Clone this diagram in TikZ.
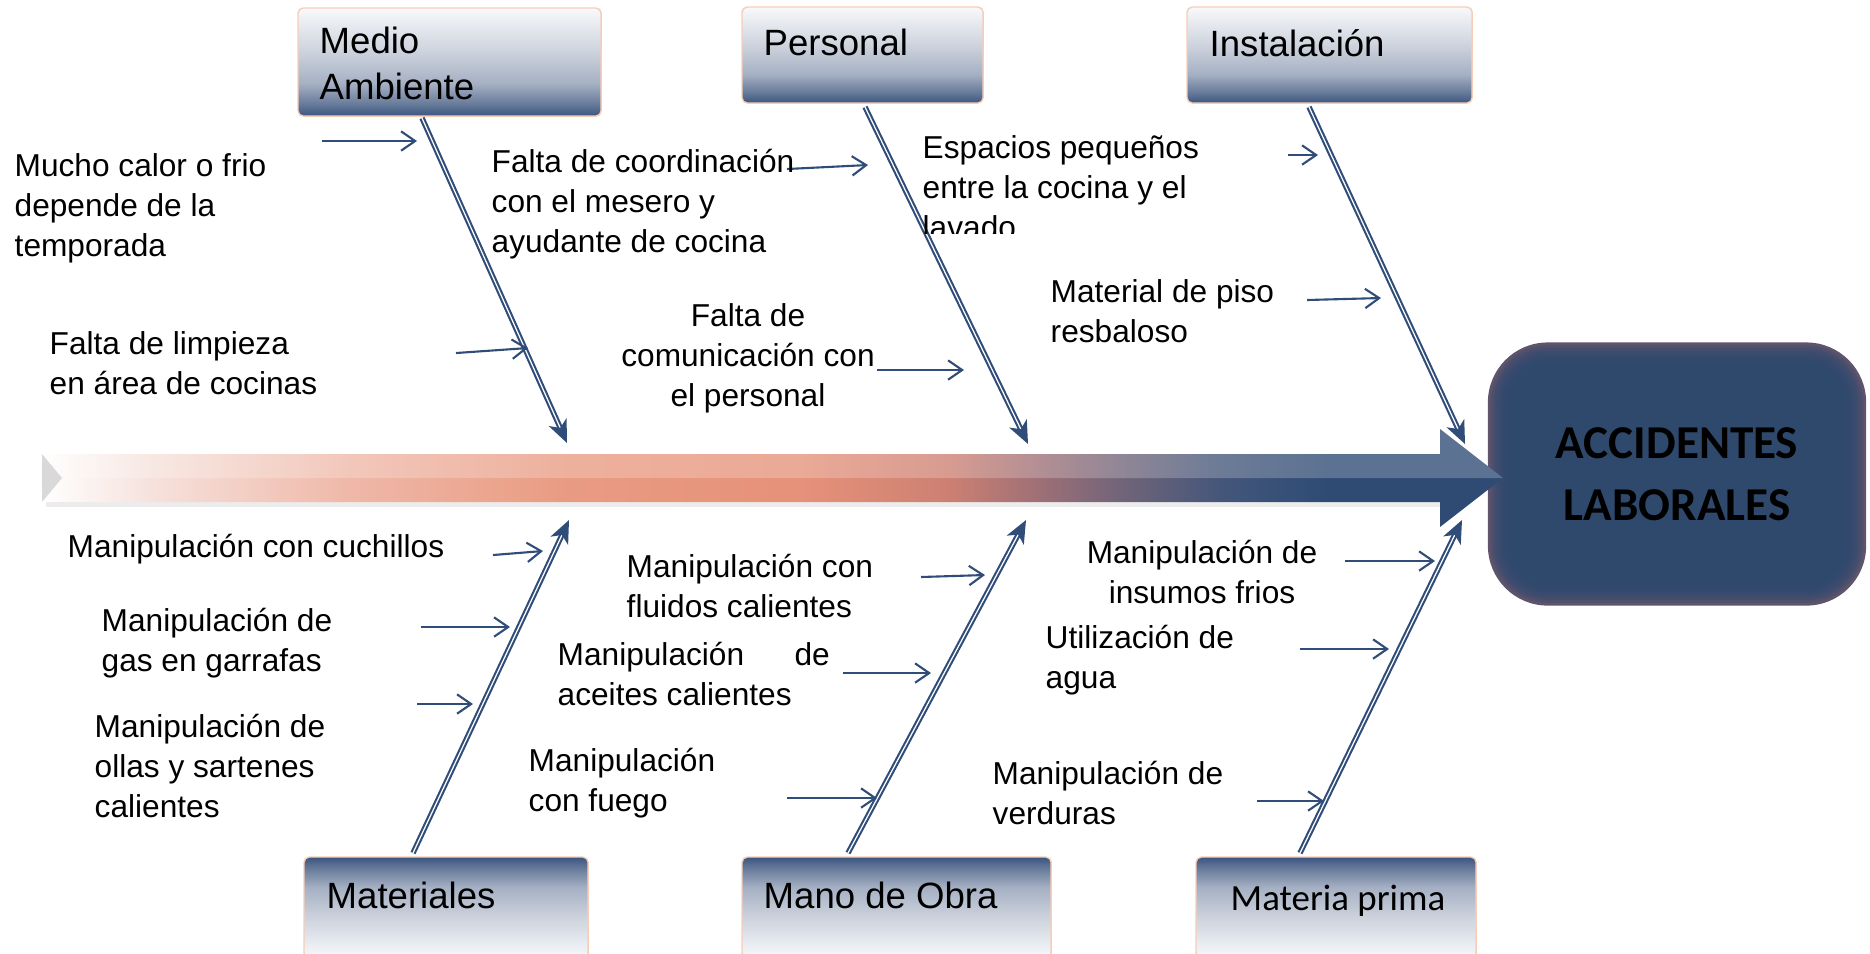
\documentclass[tikz,border=0pt]{standalone}
\usepackage{fontspec}
\setmainfont{Liberation Sans}
\newfontfamily\calibri{Carlito}
\usetikzlibrary{arrows.meta,calc}
\definecolor{bonecol}{RGB}{47,77,120}
\definecolor{capdark}{RGB}{59,85,128}
\definecolor{capmidA}{RGB}{106,125,156}
\definecolor{capmidB}{RGB}{165,176,195}
\definecolor{capmidC}{RGB}{205,211,221}
\definecolor{caplight}{RGB}{248,249,251}
\definecolor{capedge}{RGB}{248,205,182}
\definecolor{effblue}{RGB}{45,73,112}
\definecolor{effglow}{RGB}{96,84,108}
\definecolor{spA}{RGB}{246,226,220}
\definecolor{spB}{RGB}{239,184,168}
\definecolor{spC}{RGB}{233,155,130}
\definecolor{spD}{RGB}{230,145,122}
\definecolor{spE}{RGB}{205,128,114}
\definecolor{spF}{RGB}{160,112,118}
\definecolor{spG}{RGB}{112,100,121}
\definecolor{spH}{RGB}{66,86,122}
\definecolor{spI}{RGB}{47,75,116}
\pgfdeclarehorizontalshading{spineshade}{100bp}{color(0bp)=(white); color(25bp)=(white);
  color(28.7bp)=(spA); color(35.5bp)=(spB); color(43bp)=(spC); color(51bp)=(spD);
  color(56bp)=(spE); color(59bp)=(spF); color(62bp)=(spG); color(65.5bp)=(spH);
  color(69bp)=(spI); color(75bp)=(spI); color(100bp)=(spI)}
\pgfdeclareverticalshading{capshade}{100bp}{color(0bp)=(capdark); color(25bp)=(capdark);
  color(31bp)=(capmidA); color(40bp)=(capmidB); color(55bp)=(capmidC);
  color(75bp)=(caplight); color(100bp)=(caplight)}
\tikzset{
  capbox/.style={draw=capedge,line width=0.4pt,rounded corners=1.5pt,
    shading=capshade,inner sep=0pt,outer sep=0pt,anchor=north west},
  capboxlow/.style={capbox,shading angle=180},
  caplab/.style={font=\fontsize{10.4}{13.3}\selectfont,align=left,
    inner sep=0pt,anchor=west},
  causetext/.style={font=\fontsize{9}{11.4}\selectfont,align=left,
    inner sep=0pt,anchor=west},
  bone/.style={draw=bonecol,double=white,line width=0.6pt,double distance=0.35pt,
    -{Stealth[length=6.5pt,width=5.5pt,inset=1.8pt]}},
  causearrow/.style={draw=bonecol,line width=0.6pt,
    -{Straight Barb[length=4pt,width=5.5pt]}},
  effectbox/.style={fill=effglow,rounded corners=17pt,
    minimum width=3.78cm,minimum height=2.63cm,
    font=\calibri\bfseries\fontsize{13.4}{17.6}\selectfont,
    align=center,inner sep=0pt,
    path picture={
      \foreach \d in {0.8,1.6,...,6.4}
        \fill[effblue,opacity=0.3,rounded corners=17pt-\d pt]
          ($(path picture bounding box.north west)+(\d pt,-\d pt)$) rectangle
          ($(path picture bounding box.south east)+(-\d pt,\d pt)$);
    }}
}
\begin{document}
\begin{tikzpicture}[x=0.01cm,y=-0.01cm]
  \useasboundingbox (0,0) rectangle (1870,953);
  \clip (0,0) rectangle (1870,953);

  % effect
  \node[effectbox] (acc) at (1677,474) {ACCIDENTES\\LABORALES};

  % spine
  \coordinate (tail) at (42,478);
  \fill[black!30,opacity=0.25] (46,502) rectangle (1440,507);
  \shade[shading=spineshade] (42,454) -- (1440,454) -- (1440,429) -- (1503,478)
    -- (1440,527) -- (1440,502) -- (42,502) -- cycle;
  \fill[white,opacity=0.22] (42,454) -- (1440,454) -- (1440,429) -- (1503,478)
    -- (42,478) -- cycle;
  \fill[gray!30] (tail) ++(0,-24) -- ++(20,24) -- ++(-20,24) -- cycle;

  % category boxes
  \node[capbox,minimum width=3.03cm,minimum height=1.08cm] (ma) at (298,8) {};
  \node[capbox,minimum width=2.41cm,minimum height=0.96cm] (pe) at (742,7) {};
  \node[capbox,minimum width=2.85cm,minimum height=0.96cm] (ins) at (1187,7) {};
  \node[capboxlow,minimum width=2.84cm,minimum height=1.01cm] (mt) at (304,857) {};
  \node[capboxlow,minimum width=3.09cm,minimum height=1.01cm] (mo) at (742,857) {};
  \node[capboxlow,minimum width=2.80cm,minimum height=1.01cm] (mp) at (1196,857) {};

  \node[caplab] (maL) at (319,63.5) {Medio\\Ambiente};
  \node[caplab] (peL) at (763,42.5) {Personal};
  \node[caplab] (insL) at (1209,43) {Instalación};
  \node[caplab] (mtL) at (326,895) {Materiales};
  \node[caplab] (moL) at (763,895) {Mano de Obra};
  \node[caplab,font=\calibri\fontsize{10.5}{13}\selectfont] (mpL) at (1230,901) {Materia prima};

  % bones
  \foreach \n/\xa/\ya/\xb/\yb in {ma/422/118/567/443, pe/865/107/1028/444,
      in/1309/107/1465/444, mt/413/853/569/520, mo/848/853/1026/520,
      mp/1300/853/1462/520}
    {\coordinate (\n S) at (\xa,\ya);
     \coordinate (\n E) at (\xb,\yb);
     \draw[bone] (\n S) -- (\n E);}

  % causes
  \foreach \n/\xa/\ya/\xb/\yb in {1/322/141/417/141, 2/456/353/528/348,
      3/787/169/868/165, 4/877/370/964/370, 5/1288/155/1318/155,
      6/1307/300/1381/298, 7/493/555/543/551, 8/421/627/510/627,
      9/417/704/473/704, 10/921/577/985/575, 11/843/673/931/673,
      12/787/798/877/798, 13/1345/561/1435/561, 14/1300/649/1389/649,
      15/1257/801/1324/801}
    {\coordinate (c\n S) at (\xa,\ya);
     \coordinate (c\n E) at (\xb,\yb);
     \draw[causearrow] (c\n S) -- (c\n E);}

  \node[causetext] (t1) at (14,208) {Mucho calor o frio\\depende de la\\temporada};
  \node[causetext] (t2) at (49,363) {Falta de limpieza\\en área de cocinas};
  \node[causetext] (t3) at (491,204) {Falta de coordinación\\con el mesero y\\ayudante de cocina};
  \node[causetext,align=center,anchor=center] (t4) at (748,358) {Falta de\\comunicación con\\el personal};
  \begin{scope}
    \clip (900,120) rectangle (1260,233);
    \node[causetext] (t5) at (922,187) {Espacios pequeños\\entre la cocina y el\\lavado};
  \end{scope}
  \node[causetext] (t6) at (1050,311) {Material de piso\\resbaloso};
  \node[causetext] (t7) at (67,549) {Manipulación con cuchillos};
  \node[causetext] (t8) at (101,643) {Manipulación de\\gas en garrafas};
  \node[causetext] (t9) at (94,766) {Manipulación de\\ollas y sartenes\\calientes};
  \node[causetext] (t10) at (626,586) {Manipulación con\\fluidos calientes};
  \node[causetext] (t11) at (557,674) {\makebox[2.72cm][s]{Manipulación de}\\aceites calientes};
  \node[causetext] (t12) at (528,783) {Manipulación\\con fuego};
  \node[causetext,align=center,anchor=center] (t13) at (1202,572) {Manipulación de\\insumos frios};
  \node[causetext] (t14) at (1045,660) {Utilización de\\agua};
  \node[causetext] (t15) at (992,793) {Manipulación de\\verduras};
\end{tikzpicture}
\end{document}
